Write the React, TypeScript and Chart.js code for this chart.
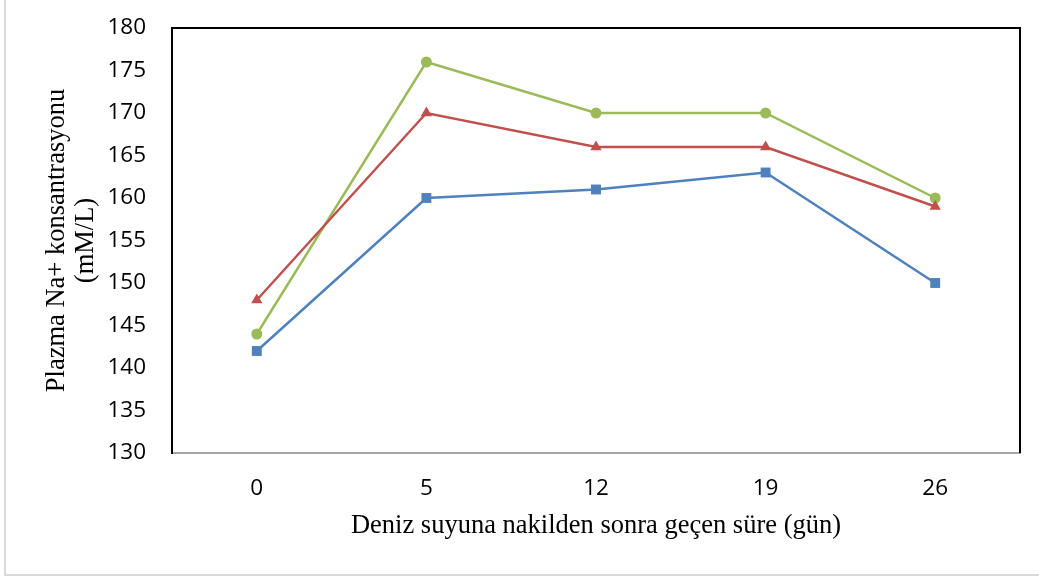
import React, { useEffect, useRef } from "react";
import { Chart, registerables } from "chart.js";

Chart.register(...registerables);

const categories = ["0", "5", "12", "19", "26"];
const seriesBlue = [142, 160, 161, 163, 150];
const seriesRed = [148, 170, 166, 166, 159];
const seriesGreen = [144, 176, 170, 170, 160];
const yTitle = ["Plazma Na+ konsantrasyonu", "(mM/L)"];
const xTitle = "Deniz suyuna nakilden sonra geçen süre (gün)";

const frameBorder = {
  id: "frameBorder",
  afterDraw(chart: any) {
    const { ctx, chartArea } = chart;
    ctx.save();
    ctx.strokeStyle = "#000000";
    ctx.lineWidth = 2;
    ctx.beginPath();
    ctx.moveTo(chartArea.left, chartArea.top);
    ctx.lineTo(chartArea.right, chartArea.top);
    ctx.lineTo(chartArea.right, chartArea.bottom);
    ctx.stroke();
    ctx.restore();
  },
};

export default function App() {
  const ref = useRef<HTMLCanvasElement | null>(null);
  useEffect(() => {
    if (!ref.current) return;
    const tickFont = { family: "'Open Sans', sans-serif", size: 22.5 };
    const titleFont = { family: "'Liberation Serif', 'Times New Roman', serif", size: 26.5, lineHeight: 1.1 };
    const chart = new Chart(ref.current, {
      type: "line",
      data: {
        labels: categories,
        datasets: [
          {
            label: "Seri 1",
            data: seriesBlue,
            borderColor: "#4F81BD",
            backgroundColor: "#4F81BD",
            borderWidth: 2.5,
            pointStyle: "rect",
            pointRadius: 7,
            pointBorderWidth: 0,
          },
          {
            label: "Seri 2",
            data: seriesRed,
            borderColor: "#C0504D",
            backgroundColor: "#C0504D",
            borderWidth: 2.5,
            pointStyle: "triangle",
            pointRadius: 6.5,
            pointBorderWidth: 0,
          },
          {
            label: "Seri 3",
            data: seriesGreen,
            borderColor: "#9BBB59",
            backgroundColor: "#9BBB59",
            borderWidth: 2.5,
            pointStyle: "circle",
            pointRadius: 5.5,
            pointBorderWidth: 0,
          },
        ],
      },
      options: {
        responsive: false,
        animation: false,
        layout: { padding: { left: 0, top: 28, right: 19, bottom: 0 } },
        plugins: { legend: { display: false }, tooltip: { enabled: false } },
        scales: {
          x: {
            offset: true,
            grid: { display: false, drawTicks: false },
            border: { display: true, color: "#a6a6a6", width: 2 },
            ticks: { color: "#000", font: tickFont, padding: 22 },
            title: {
              display: true,
              text: xTitle,
              color: "#000",
              font: titleFont,
              padding: { top: 0, bottom: 37 },
            },
            afterFit(scale: any) {
              scale.height = 125;
              scale.paddingLeft = 0;
              scale.paddingRight = 0;
            },
          },
          y: {
            min: 130,
            max: 180,
            grid: { display: false, drawTicks: false },
            border: { display: true, color: "#000", width: 2 },
            ticks: { stepSize: 5, color: "#000", font: tickFont, padding: 26 },
            title: {
              display: true,
              text: yTitle,
              color: "#000",
              font: titleFont,
              padding: { top: 42, bottom: 0 },
            },
            afterFit(scale: any) {
              scale.width = 172;
              scale.paddingTop = 0;
              scale.paddingBottom = 0;
            },
          },
        },
      },
      plugins: [frameBorder],
    });
    return () => chart.destroy();
  }, []);

  return (
    <div style={{ position: "absolute", left: 0, top: 0, width: 1039, height: 578, background: "#fff", overflow: "hidden" }}>
      <div style={{ position: "absolute", left: 4, top: 0, width: 2, height: 576, background: "#d9d9d9" }} />
      <div style={{ position: "absolute", left: 4, top: 574, width: 1035, height: 2, background: "#d9d9d9" }} />
      <canvas ref={ref} width={1039} height={578} style={{ position: "absolute", left: 0, top: 0 }} />
    </div>
  );
}
